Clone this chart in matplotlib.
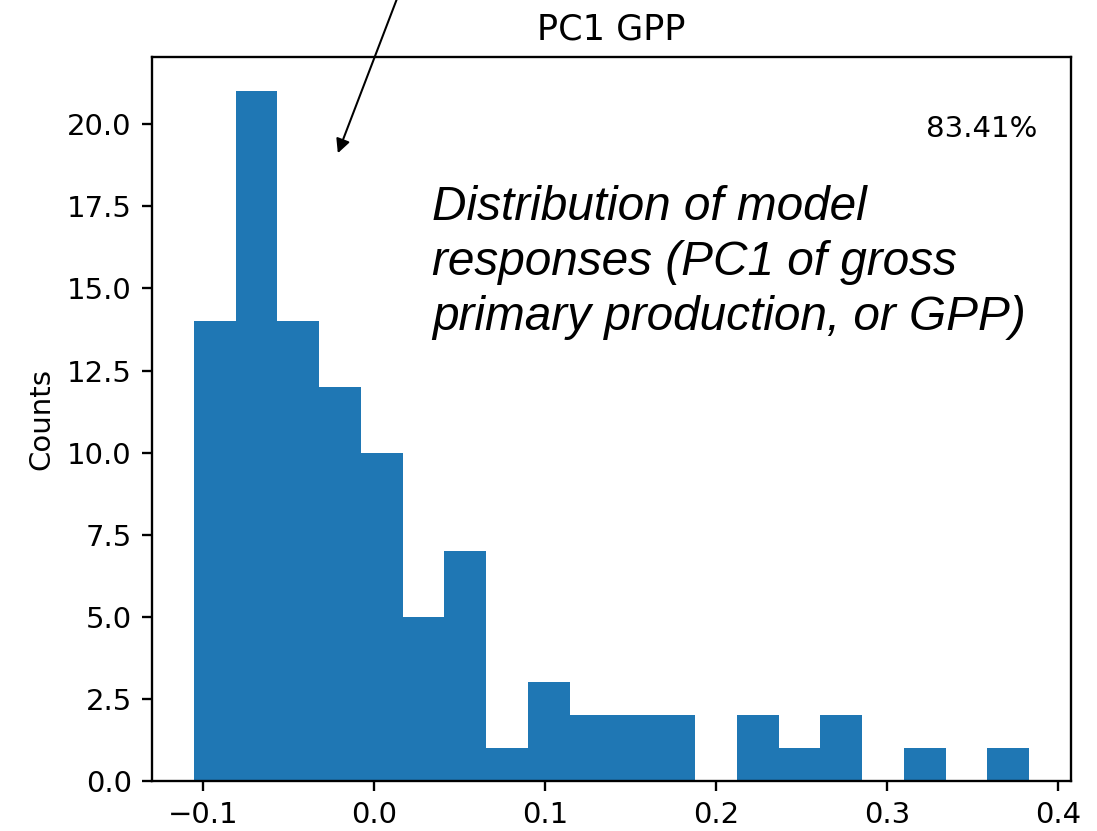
import numpy as np
import matplotlib.pyplot as plt

# histogram of PC1 GPP model responses (20 bins)
counts = [14, 21, 14, 12, 10, 5, 7, 1, 3, 2, 2, 2, 0, 2, 1, 2, 0, 1, 0, 1]
x_min, x_max = -0.1053, 0.3831
edges = np.linspace(x_min, x_max, len(counts) + 1)
centers = 0.5 * (edges[:-1] + edges[1:])

DPI = 210
fig = plt.figure(figsize=(1097 / DPI, 831 / DPI), dpi=DPI)
ax = fig.add_axes([0.1386, 0.0602, 0.8377, 0.8712])

ax.hist(centers, bins=edges, weights=counts, color="#1f77b4")
ax.set_title("PC1 GPP")
ax.set_ylabel("Counts")
ax.yaxis.set_major_formatter(plt.FormatStrFormatter("%.1f"))

ax.text(0.963, 0.92, "83.41%", transform=ax.transAxes, ha="right", va="top")

ax.text(0.305, 0.823,
        "Distribution of model\nresponses (PC1 of gross\nprimary production, or GPP)",
        transform=ax.transAxes, ha="left", va="top", linespacing=1.28,
        family="Liberation Sans", style="italic", fontsize=16.4)

ax.annotate("", xy=(-0.0211, 19.12), xytext=(0.0155, 24.1),
            arrowprops=dict(arrowstyle="-|>", color="black", lw=0.7,
                            shrinkA=0, shrinkB=0),
            annotation_clip=False)

fig.savefig("out.png", dpi=DPI)
